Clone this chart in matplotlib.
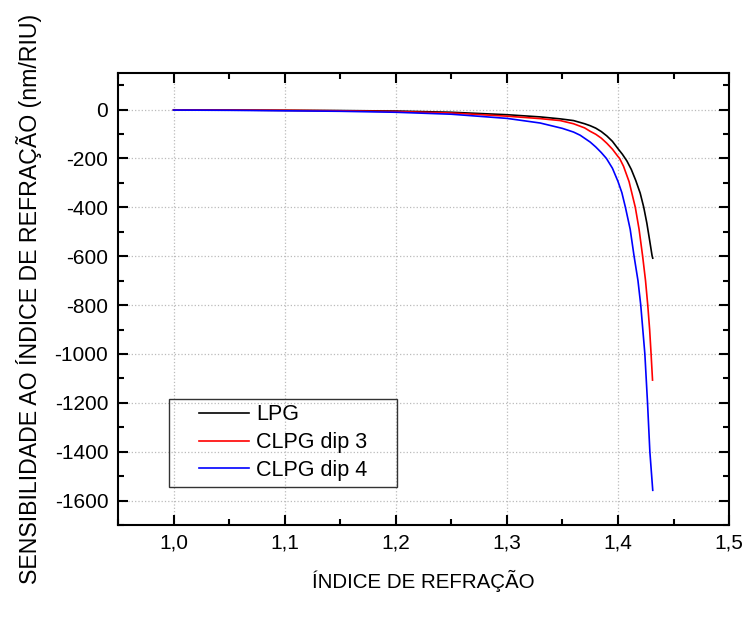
import matplotlib.pyplot as plt
from matplotlib.ticker import MultipleLocator, FuncFormatter
from matplotlib.patches import Rectangle

plt.rcParams['font.family'] = ['Liberation Sans', 'DejaVu Sans']

# values
n_lpg = [1.0, 1.05, 1.1, 1.15, 1.2, 1.25, 1.3, 1.33, 1.348, 1.36, 1.37, 1.375, 1.38,
         1.385, 1.39, 1.395, 1.4, 1.404, 1.408, 1.412, 1.416, 1.42, 1.4232, 1.426,
         1.4285, 1.4307, 1.4313]
s_lpg = [-1, -2, -3, -4, -6, -11, -21, -30, -38, -45, -58, -66, -76,
         -90, -108, -130, -160, -183, -210, -245, -290, -342, -400, -465,
         -535, -598, -608]

n_dip3 = [1.0, 1.05, 1.1, 1.15, 1.2, 1.25, 1.3, 1.33, 1.348, 1.36, 1.37, 1.375, 1.38,
          1.385, 1.39, 1.395, 1.4, 1.4015, 1.405, 1.41, 1.4156, 1.419, 1.4222, 1.4248,
          1.4268, 1.4285, 1.4298, 1.4311]
s_dip3 = [-1, -2, -3, -5, -8, -14, -27, -37, -45, -58, -75, -89, -101,
          -117, -138, -162, -192, -200, -232, -295, -400, -490, -600, -700,
          -800, -900, -1000, -1107]

n_dip4 = [1.0, 1.05, 1.1, 1.15, 1.2, 1.25, 1.3, 1.33, 1.35, 1.36, 1.366, 1.375, 1.38,
          1.385, 1.3896, 1.395, 1.4, 1.4035, 1.4067, 1.411, 1.4145, 1.418, 1.4205,
          1.4242, 1.4266, 1.4287, 1.4313]
s_dip4 = [-2, -3, -5, -7, -11, -19, -36, -55, -77, -92, -105, -133, -153,
          -176, -200, -240, -294, -340, -400, -490, -600, -700, -800,
          -1000, -1200, -1400, -1558]

fig = plt.figure(figsize=(7.47, 6.18), dpi=100)
ax = fig.add_axes([0.158, 0.1505, 0.818, 0.7315])

ax.plot(n_lpg, s_lpg, color='black', lw=1.2, label='LPG')
ax.plot(n_dip3, s_dip3, color='red', lw=1.2, label='CLPG dip 3')
ax.plot(n_dip4, s_dip4, color='blue', lw=1.2, label='CLPG dip 4')

ax.set_xlim(0.95, 1.5)
ax.set_ylim(-1700, 150)
ax.xaxis.set_major_locator(MultipleLocator(0.1))
ax.xaxis.set_minor_locator(MultipleLocator(0.05))
ax.yaxis.set_major_locator(MultipleLocator(200))
ax.yaxis.set_minor_locator(MultipleLocator(100))
ax.xaxis.set_major_formatter(FuncFormatter(lambda v, p: f"{v:.1f}".replace('.', ',')))
ax.yaxis.set_major_formatter(FuncFormatter(lambda v, p: f"{v:.0f}"))

ax.tick_params(which='both', direction='in', top=True, right=True, width=1.5)
ax.tick_params(which='major', length=7, labelsize=15)
ax.tick_params(axis='x', which='major', pad=6)
ax.tick_params(axis='y', which='major', pad=7)
ax.tick_params(which='minor', length=4)
for sp in ax.spines.values():
    sp.set_linewidth(1.5)

ax.grid(True, which='major', linestyle=':', color='#bbbbbb', linewidth=0.9)

ax.set_xlabel('ÍNDICE DE REFRAÇÃO', fontsize=14.8, labelpad=13)
ax.set_ylabel('SENSIBILIDADE AO ÍNDICE DE REFRAÇÃO (nm/RIU)', fontsize=16.7, labelpad=9)

leg = ax.legend(loc='lower left', bbox_to_anchor=(199 / 747, 137 / 618),
                bbox_transform=fig.transFigure, fontsize=15.5, frameon=False,
                handlelength=2.33, handletextpad=0.33, labelspacing=0.32,
                borderpad=0, borderaxespad=0)

# boxed legend frame with the wider side margins of the original
fig.canvas.draw()
bb = leg.get_window_extent()
frame = Rectangle((bb.x0 - 30, bb.y0 - 6), bb.width + 59, bb.height + 11,
                  transform=None, fill=False, edgecolor='#333333', lw=1.0, zorder=5)
fig.add_artist(frame)

fig.savefig('out.png', dpi=100)
